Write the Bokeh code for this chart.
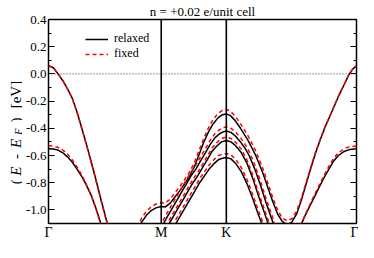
import math
from bokeh.plotting import figure
from bokeh.layouts import row
from bokeh.models import (Range1d, FixedTicker, Span, LinearAxis, Legend, LegendItem)
from bokeh.core.properties import value
from bokeh.embed import file_html
from bokeh.resources import INLINE

# ---------------- data ----------------
TITLE = "n = +0.02 e/unit cell"
k_points = [0.0, 0.866, 1.366, 2.366]
k_labels = ["Γ", "M", "K", "Γ"]
e_ticks = [-1.0, -0.8, -0.6, -0.4, -0.2, 0.0, 0.2, 0.4]
e_tick_labels = ["-1.0", "-0.8", "-0.6", "-0.4", "-0.2", "0.0", "0.2", "0.4"]
e_minor = [-1.1, -0.9, -0.7, -0.5, -0.3, -0.1, 0.1, 0.3]
series_names = ["relaxed", "fixed"]

band_a_k = [0.000, 0.037, 0.073, 0.110, 0.146, 0.183, 0.219, 0.256, 0.292, 0.329, 0.365, 0.402, 0.438, 0.475]
band_a_relaxed = [0.060, 0.045, 0.000, -0.050, -0.110, -0.180, -0.280, -0.400, -0.520, -0.650, -0.780, -0.920, -1.050, -1.180]
band_a_fixed = [0.062, 0.046, 0.002, -0.049, -0.110, -0.182, -0.283, -0.404, -0.525, -0.655, -0.786, -0.926, -1.056, -1.186]

band_b_k = [0.000, 0.037, 0.073, 0.110, 0.146, 0.183, 0.219, 0.256, 0.292, 0.329, 0.365, 0.402, 0.438]
band_b_relaxed = [-0.550, -0.553, -0.560, -0.580, -0.610, -0.650, -0.700, -0.755, -0.820, -0.895, -0.990, -1.100, -1.210]
band_b_fixed = [-0.528, -0.531, -0.540, -0.560, -0.590, -0.632, -0.685, -0.745, -0.815, -0.895, -0.995, -1.110, -1.220]

band_b2_k = [1.935, 1.972, 2.008, 2.045, 2.081, 2.118, 2.154, 2.191, 2.227, 2.271, 2.315, 2.366]
band_b2_relaxed = [-1.120, -1.040, -0.970, -0.900, -0.830, -0.760, -0.700, -0.640, -0.600, -0.570, -0.555, -0.550]
band_b2_fixed = [-1.115, -1.035, -0.960, -0.885, -0.815, -0.745, -0.680, -0.620, -0.580, -0.550, -0.535, -0.530]

band_c_k = [0.680, 0.716, 0.752, 0.789, 0.825, 0.866, 0.898, 0.935, 0.971, 1.008, 1.044, 1.081, 1.117,
            1.154, 1.190, 1.227, 1.263, 1.300, 1.336, 1.366, 1.395, 1.431, 1.475, 1.534, 1.592, 1.643,
            1.687, 1.723, 1.760, 1.796, 1.833, 1.869, 1.906, 1.942, 1.979, 2.016, 2.052, 2.089, 2.125,
            2.162, 2.198, 2.235, 2.271, 2.308, 2.337, 2.366]
band_c_relaxed = [-1.160, -1.090, -1.040, -1.005, -0.985, -0.975, -0.978, -0.950, -0.905, -0.860, -0.810,
                  -0.755, -0.690, -0.600, -0.510, -0.430, -0.370, -0.325, -0.300, -0.295, -0.305, -0.340,
                  -0.400, -0.490, -0.600, -0.720, -0.840, -0.940, -1.030, -1.085, -1.110, -1.090, -1.030,
                  -0.930, -0.810, -0.690, -0.580, -0.480, -0.390, -0.310, -0.230, -0.150, -0.080, -0.005,
                  0.035, 0.060]
band_c_fixed = [-1.130, -1.060, -1.010, -0.977, -0.957, -0.947, -0.950, -0.920, -0.875, -0.830, -0.780,
                -0.725, -0.660, -0.570, -0.480, -0.400, -0.338, -0.293, -0.268, -0.262, -0.272, -0.307,
                -0.367, -0.457, -0.567, -0.687, -0.808, -0.910, -1.000, -1.060, -1.080, -1.065, -1.010,
                -0.915, -0.800, -0.682, -0.573, -0.475, -0.386, -0.306, -0.227, -0.147, -0.077, -0.003,
                0.036, 0.061]

band_d_k = [0.870, 0.884, 0.913, 0.949, 0.986, 1.022, 1.059, 1.095, 1.132, 1.168, 1.205, 1.241, 1.278,
            1.314, 1.344, 1.366, 1.402, 1.439, 1.475, 1.512, 1.541, 1.585, 1.629, 1.672, 1.716, 1.745]
band_d_relaxed = [-1.160, -1.100, -1.050, -0.990, -0.930, -0.870, -0.810, -0.750, -0.700, -0.640, -0.580,
                  -0.520, -0.470, -0.440, -0.425, -0.420, -0.430, -0.460, -0.500, -0.550, -0.600, -0.700,
                  -0.820, -0.950, -1.070, -1.150]
band_d_fixed = [-1.130, -1.070, -1.020, -0.960, -0.900, -0.840, -0.780, -0.720, -0.670, -0.610, -0.550,
                -0.490, -0.440, -0.410, -0.395, -0.390, -0.400, -0.430, -0.470, -0.520, -0.570, -0.670,
                -0.790, -0.920, -1.040, -1.120]

band_e_k = [0.905, 0.927, 0.964, 1.000, 1.037, 1.073, 1.110, 1.146, 1.183, 1.220, 1.256, 1.293, 1.329,
            1.366, 1.402, 1.439, 1.482, 1.526, 1.570, 1.614, 1.658, 1.694, 1.716]
band_e_relaxed = [-1.150, -1.100, -1.040, -0.980, -0.920, -0.860, -0.800, -0.750, -0.690, -0.630, -0.570,
                  -0.530, -0.500, -0.490, -0.500, -0.530, -0.580, -0.660, -0.770, -0.900, -1.020, -1.120,
                  -1.190]
band_e_fixed = [-1.125, -1.075, -1.015, -0.955, -0.895, -0.835, -0.775, -0.725, -0.665, -0.605, -0.545,
                -0.505, -0.475, -0.465, -0.475, -0.505, -0.555, -0.635, -0.745, -0.875, -0.995, -1.095,
                -1.165]

band_f_k = [0.955, 0.979, 1.015, 1.052, 1.088, 1.125, 1.161, 1.198, 1.234, 1.271, 1.307, 1.336, 1.366,
            1.402, 1.439, 1.482, 1.526, 1.570, 1.614, 1.650, 1.672]
band_f_relaxed = [-1.150, -1.100, -1.040, -0.980, -0.920, -0.860, -0.800, -0.750, -0.700, -0.660, -0.630,
                  -0.620, -0.615, -0.625, -0.660, -0.720, -0.810, -0.920, -1.040, -1.130, -1.180]
band_f_fixed = [-1.120, -1.070, -1.010, -0.950, -0.890, -0.830, -0.770, -0.720, -0.670, -0.630, -0.600,
                -0.590, -0.585, -0.595, -0.630, -0.690, -0.780, -0.890, -1.010, -1.100, -1.150]

# ---------------- layout sizes ----------------
SERIF = "Liberation Serif"
TOTAL_W = 358
TOTAL_H = 242
YLAB_W = 22


def style_ticks(ax):
    ax.axis_line_color = None
    ax.major_tick_in = 6
    ax.major_tick_out = 0
    ax.minor_tick_in = 3
    ax.minor_tick_out = 0
    ax.major_tick_line_width = 1.2
    ax.minor_tick_line_width = 1.2


# ---------------- main plot ----------------
p = figure(width=TOTAL_W - YLAB_W, height=TOTAL_H, output_backend="svg", toolbar_location=None,
           title=TITLE,
           x_range=Range1d(k_points[0], k_points[-1]), y_range=Range1d(-1.1, 0.4),
           min_border_left=23, min_border_right=2, min_border_top=17, min_border_bottom=0)
p.grid.visible = False
p.outline_line_color = "black"
p.outline_line_width = 1.5
p.border_fill_color = "white"

p.title.align = "center"
p.title.text_font = SERIF
p.title.text_font_style = "normal"
p.title.text_font_size = "13px"
p.title.text_color = "black"
p.title.standoff = 2
p.title.offset = 0

xa = p.xaxis[0]
xa.ticker = FixedTicker(ticks=k_points, minor_ticks=[])
xa.major_label_overrides = dict(zip(k_points, k_labels))
xa.axis_line_color = None
xa.major_tick_line_color = None
xa.major_tick_in = 0
xa.major_tick_out = 0
xa.major_label_standoff = 1
xa.major_label_text_font = SERIF
xa.major_label_text_font_size = "14px"
xa.major_label_text_color = "black"

ticker = FixedTicker(ticks=e_ticks, minor_ticks=e_minor)
ya = p.yaxis[0]
ya.ticker = ticker
ya.major_label_overrides = dict(zip(e_ticks, e_tick_labels))
style_ticks(ya)
ya.major_label_standoff = 2
ya.major_label_text_font = SERIF
ya.major_label_text_font_size = "13px"
ya.major_label_text_color = "black"

ra = LinearAxis(ticker=ticker, major_label_overrides={t: "" for t in e_ticks})
style_ticks(ra)
ra.major_label_standoff = 0
ra.major_label_text_font_size = "1px"
p.add_layout(ra, "right")

for kv in k_points[1:-1]:
    p.add_layout(Span(location=kv, dimension="height", line_color="black", line_width=1.6))
p.add_layout(Span(location=0.0, dimension="width", line_color="#333333", line_width=1,
                  line_dash="1 2"))

bands = [
    (band_a_k, band_a_relaxed, band_a_fixed),
    (band_b_k, band_b_relaxed, band_b_fixed),
    (band_b2_k, band_b2_relaxed, band_b2_fixed),
    (band_c_k, band_c_relaxed, band_c_fixed),
    (band_d_k, band_d_relaxed, band_d_fixed),
    (band_e_k, band_e_relaxed, band_e_fixed),
    (band_f_k, band_f_relaxed, band_f_fixed),
]
black_r = [p.line(k, rel, line_color="black", line_width=1.5) for k, rel, fix in bands]
red_r = [p.line(k, fix, line_color="#ff0000", line_width=1.5, line_dash="4 3") for k, rel, fix in bands]

lg = Legend(items=[LegendItem(label=series_names[0], renderers=[black_r[0]]),
                   LegendItem(label=series_names[1], renderers=[red_r[0]])],
            location=(37, 162))
lg.border_line_color = None
lg.background_fill_alpha = 0
lg.padding = 0
lg.margin = 0
lg.spacing = 0
lg.glyph_width = 23
lg.glyph_height = 14
lg.label_height = 14
lg.label_standoff = 6
lg.label_text_font = SERIF
lg.label_text_font_size = "12px"
lg.label_text_color = "black"
p.add_layout(lg, "center")

# ---------------- y-label strip: (E - E_F)  [eV] ----------------
py = figure(width=YLAB_W, height=TOTAL_H, output_backend="svg", toolbar_location=None, title=None,
            x_range=Range1d(0, YLAB_W), y_range=Range1d(0, TOTAL_H),
            x_axis_location=None, y_axis_location=None,
            min_border_left=0, min_border_right=0, min_border_top=0, min_border_bottom=0)
py.grid.visible = False
py.outline_line_color = None
py.border_fill_color = "white"
py.background_fill_color = "white"
# (text, style, font px, baseline x, image y where the piece starts)
ylab_pieces = [("(", "normal", 15, 15.5, 195.5), ("E", "italic", 15, 15.5, 185.4),
               ("-", "normal", 15, 15.5, 165.6), ("E", "italic", 15, 15.5, 152.4),
               ("F", "italic", 10, 18.0, 136.7), (")", "normal", 15, 15.5, 122.3),
               ("[eV]", "normal", 15, 15.5, 105.4)]
for txt, style, size, bx, img_y in ylab_pieces:
    py.text(x=[bx], y=[TOTAL_H - img_y], text=[txt], angle=math.pi / 2, text_align="left",
            text_baseline="alphabetic", text_font=value(SERIF), text_font_style=style,
            text_font_size=value(f"{size}px"), text_color="black")

layout = row(py, p)
open("out.html", "w").write(file_html(layout, INLINE))
